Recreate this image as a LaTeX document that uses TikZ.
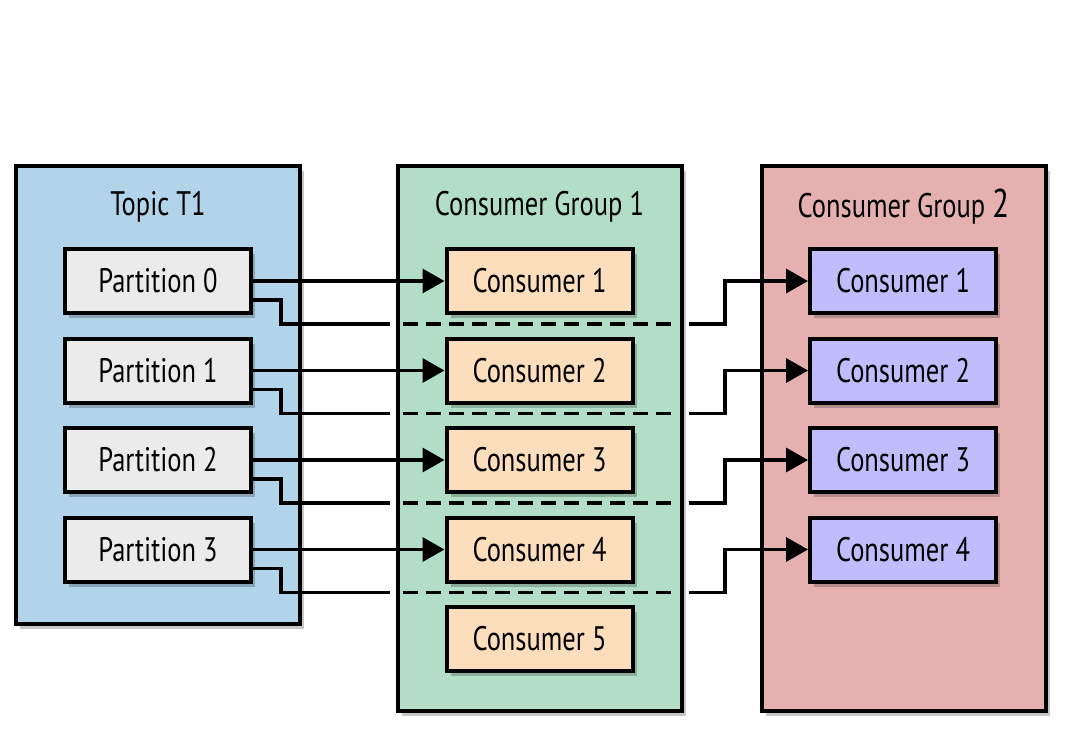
\documentclass[tikz,border=0pt]{standalone}
\usepackage{fontspec}
\setmainfont[FakeStretch=0.78]{PT Sans}
\usetikzlibrary{calc,shadows,arrows.meta}
\definecolor{topicblue}{RGB}{178,212,234}
\definecolor{grpgreen}{RGB}{178,222,200}
\definecolor{grpred}{RGB}{228,177,176}
\definecolor{partgray}{RGB}{235,235,235}
\definecolor{consorange}{RGB}{253,222,188}
\definecolor{conspurple}{RGB}{193,189,253}
\tikzset{
  shad/.style={drop shadow={opacity=0.22,shadow xshift=4pt,shadow yshift=-5pt,fill=black}},
  outerbox/.style={draw=black,line width=4pt,minimum width=284pt,shad},
  innerbox/.style={draw=black,line width=4pt,minimum width=186pt,minimum height=64pt,shad,
     font=\fontsize{34}{38}\selectfont,inner sep=0pt},
  partbox/.style={innerbox,fill=partgray},
  cobox/.style={innerbox,fill=consorange},
  cpbox/.style={innerbox,fill=conspurple},
  title/.style={font=\fontsize{34}{38}\selectfont,inner sep=0pt},
  conn/.style={line width=3.5pt},
  dashconn/.style={line width=3.5pt,dash pattern=on 15pt off 8pt},
  arr/.style={line width=3.5pt,-{Triangle[length=22pt,width=24pt]}},
}
\begin{document}
\begin{tikzpicture}[x=1pt,y=-1pt]
\useasboundingbox (0,0) rectangle (1073,740);
% outer boxes
\node[outerbox,fill=topicblue,minimum height=458pt] (topic) at (158,395) {};
\node[outerbox,fill=grpgreen,minimum height=545pt] (g1) at (539.5,438.5) {};
\node[outerbox,fill=grpred,minimum height=545pt] (g2) at (903.5,438.5) {};
% titles
\node[title] (tt) at (158,207) {Topic T1};
\node[title] (t1) at (539.5,207) {Consumer Group 1};
\node[title] (t2) at (903.5,207) {Consumer Group {\fontsize{40}{42}\selectfont 2}};
% partitions and consumers
\foreach \i/\y in {0/281,1/370.5,2/460,3/549.5}{
  \node[partbox] (p\i) at (158,\y) {Partition \i};
}
\foreach \i/\y in {1/281,2/370.5,3/460,4/549.5,5/638.5}{
  \node[cobox] (c\i) at (539.5,\y) {Consumer \i};
}
\foreach \i/\y in {1/281,2/370.5,3/460,4/549.5}{
  \node[cpbox] (d\i) at (903,\y) {Consumer \i};
}
% connectors
\foreach \p/\c in {0/1,1/2,2/3,3/4}{
  \draw[arr] (p\p.east) -- (c\c.west);
  \draw[conn] ($(p\p.east)+(0,19)$) -| ($(p\p.east)+(28,43)$) -- ($(g1.west |- p\p.east)+(-6,43)$);
  \draw[dashconn] ($(g1.west |- p\p.east)+(7,43)$) -- ($(g1.east |- p\p.east)+(-6,43)$);
  \draw[arr] ($(g1.east |- p\p.east)+(5,43)$) -| ($(d\c.west)+(-83,0)$) -- (d\c.west);
}
\end{tikzpicture}
\end{document}
